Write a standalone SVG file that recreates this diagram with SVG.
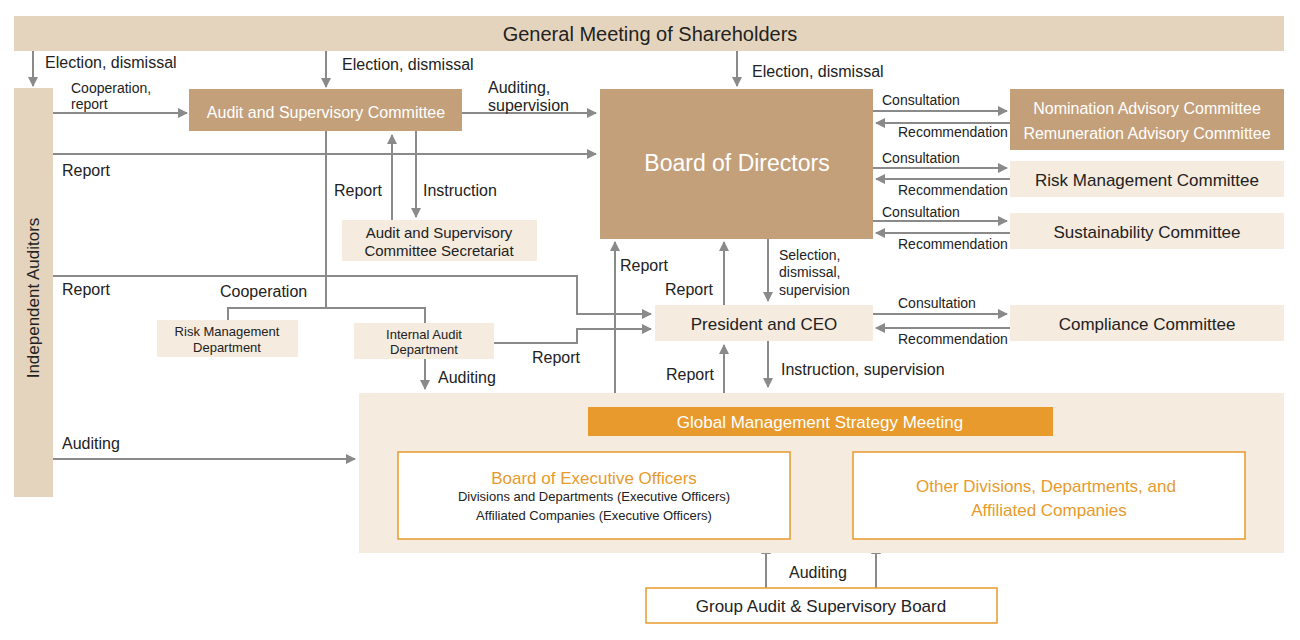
<svg xmlns="http://www.w3.org/2000/svg" width="1300" height="640" viewBox="0 0 1300 640">
<style>
text{font-family:"Liberation Sans",Arial,sans-serif;fill:#222}
.dk{fill:#c4a07a}.lt{fill:#f5ebdf}.top{fill:#e5d4bd}
.w{fill:#fff}
.c{text-anchor:middle}
.l{font-size:16px}.s{font-size:14px}.xs{font-size:13px}
.ln{stroke:#8a8a8a;stroke-width:2;fill:none}
.ar{marker-end:url(#a)}
.or{fill:#e89a2c}
</style>
<defs><marker id="a" viewBox="0 0 10 10" refX="9" refY="5" markerWidth="5" markerHeight="5" orient="auto"><path d="M0,0L10,5L0,10z" fill="#8a8a8a"/></marker></defs>
<rect width="1300" height="640" fill="#fff"/>
<g id="connectors">
<path class="ln ar" d="M33,51V86"/><path class="ln ar" d="M326,51V87"/><path class="ln ar" d="M737,51V86"/>
<path class="ln ar" d="M53,113H187"/><path class="ln ar" d="M462,113H596"/><path class="ln ar" d="M53,154H596"/>
<path class="ln" d="M326,131V308M228,320V308H425V323"/>
<path class="ln ar" d="M392,220V135"/><path class="ln ar" d="M416,131V217"/>
<path class="ln ar" d="M53,276H577V314H651"/><path class="ln ar" d="M494,343H577V329H651"/>
<path class="ln ar" d="M425,359V389"/>
<path class="ln ar" d="M615,393V242"/><path class="ln ar" d="M724,305V242"/>
<path class="ln ar" d="M768,239V301"/><path class="ln ar" d="M768,341V387"/><path class="ln ar" d="M724,393V345"/>
<path class="ln ar" d="M53,459H355"/>
<path class="ln ar" d="M873,111H1007"/><path class="ln ar" d="M1010,123H876"/>
<path class="ln ar" d="M873,168H1007"/><path class="ln ar" d="M1010,179H876"/>
<path class="ln ar" d="M873,221H1007"/><path class="ln ar" d="M1010,233H876"/>
<path class="ln ar" d="M873,314H1007"/><path class="ln ar" d="M1010,328H876"/>
<path class="ln ar" d="M766,588V545"/><path class="ln ar" d="M876,588V545"/>
</g>
<g id="labels">
<text x="45" y="68" class="l">Election, dismissal</text>
<text x="342" y="70" class="l">Election, dismissal</text>
<text x="752" y="77" class="l">Election, dismissal</text>
<text x="71" y="93" class="s">Cooperation,</text><text x="71" y="109" class="s">report</text>
<text x="488" y="93" class="l">Auditing,</text><text x="488" y="111" class="l">supervision</text>
<text x="62" y="176" class="l">Report</text>
<text x="334" y="196" class="l">Report</text><text x="423" y="196" class="l">Instruction</text>
<text x="62" y="295" class="l">Report</text><text x="220" y="297" class="l">Cooperation</text>
<text x="532" y="363" class="l">Report</text>
<text x="438" y="383" class="l">Auditing</text>
<text x="620" y="271" class="l">Report</text><text x="665" y="295" class="l">Report</text>
<text x="779" y="260" class="s">Selection,</text><text x="779" y="277" class="s">dismissal,</text><text x="779" y="295" class="s">supervision</text>
<text x="666" y="380" class="l">Report</text><text x="781" y="375" class="l">Instruction, supervision</text>
<text x="62" y="449" class="l">Auditing</text>
<text x="882" y="105" class="s">Consultation</text><text x="898" y="137" class="s">Recommendation</text>
<text x="882" y="163" class="s">Consultation</text><text x="898" y="195" class="s">Recommendation</text>
<text x="882" y="217" class="s">Consultation</text><text x="898" y="249" class="s">Recommendation</text>
<text x="898" y="308" class="s">Consultation</text><text x="898" y="344" class="s">Recommendation</text>
<text x="789" y="578" class="l">Auditing</text>
</g>
<g id="gms"><rect x="14" y="16" width="1270" height="35" class="top"/><text x="650" y="41" class="c" font-size="20">General Meeting of Shareholders</text></g>
<g id="ia"><rect x="14" y="88" width="39" height="409" class="top"/><text transform="translate(39,298) rotate(-90)" class="c" font-size="17">Independent Auditors</text></g>
<g id="asc"><rect x="189" y="89" width="273" height="42" class="dk"/><text x="326" y="118" class="c" font-size="16" style="fill:#fff">Audit and Supervisory Committee</text></g>
<g id="bod"><rect x="600" y="89" width="273" height="150" class="dk"/><text x="737" y="171" class="c" font-size="23" style="fill:#fff">Board of Directors</text></g>
<g id="nom"><rect x="1010" y="89" width="274" height="61" class="dk"/><text x="1147" y="114" class="c" font-size="16" style="fill:#fff">Nomination Advisory Committee</text><text x="1147" y="139" class="c" font-size="16" style="fill:#fff">Remuneration Advisory Committee</text></g>
<g id="rmc"><rect x="1010" y="161" width="274" height="36" class="lt"/><text x="1147" y="186" class="c" font-size="17">Risk Management Committee</text></g>
<g id="sus"><rect x="1010" y="213" width="274" height="36" class="lt"/><text x="1147" y="238" class="c" font-size="17">Sustainability Committee</text></g>
<g id="cc"><rect x="1010" y="305" width="274" height="36" class="lt"/><text x="1147" y="330" class="c" font-size="17">Compliance Committee</text></g>
<g id="ceo"><rect x="655" y="305" width="218" height="36" class="lt"/><text x="764" y="330" class="c" font-size="17">President and CEO</text></g>
<g id="sec"><rect x="342" y="220" width="195" height="41" class="lt"/><text x="439" y="238" class="c" font-size="15">Audit and Supervisory</text><text x="439" y="256" class="c" font-size="15">Committee Secretariat</text></g>
<g id="rmd"><rect x="157" y="320" width="141" height="37" class="lt"/><text x="227" y="336" class="c xs">Risk Management</text><text x="227" y="352" class="c xs">Department</text></g>
<g id="iad"><rect x="354" y="323" width="140" height="36" class="lt"/><text x="424" y="339" class="c xs">Internal Audit</text><text x="424" y="354" class="c xs">Department</text></g>
<g id="panel"><rect x="359" y="393" width="925" height="160" class="lt"/></g>
<g id="gmsm"><rect x="588" y="407" width="465" height="29" class="or"/><text x="820" y="428" class="c" font-size="17" style="fill:#fff">Global Management Strategy Meeting</text></g>
<g id="beo"><rect x="398" y="452" width="392" height="87" class="w" stroke="#e89a2c" stroke-width="1.5"/><text x="594" y="484" class="c" font-size="17" style="fill:#e89a2c">Board of Executive Officers</text><text x="594" y="501" class="c xs">Divisions and Departments (Executive Officers)</text><text x="594" y="520" class="c xs">Affiliated Companies (Executive Officers)</text></g>
<g id="other"><rect x="853" y="452" width="392" height="87" class="w" stroke="#e89a2c" stroke-width="1.5"/><text x="1046" y="492" class="c" font-size="17" style="fill:#e89a2c">Other Divisions, Departments, and</text><text x="1049" y="516" class="c" font-size="17" style="fill:#e89a2c">Affiliated Companies</text></g>
<g id="gasb"><rect x="646" y="588" width="351" height="35" class="w" stroke="#e89a2c" stroke-width="1.5"/><text x="821" y="612" class="c" font-size="17">Group Audit &amp; Supervisory Board</text></g>
</svg>
